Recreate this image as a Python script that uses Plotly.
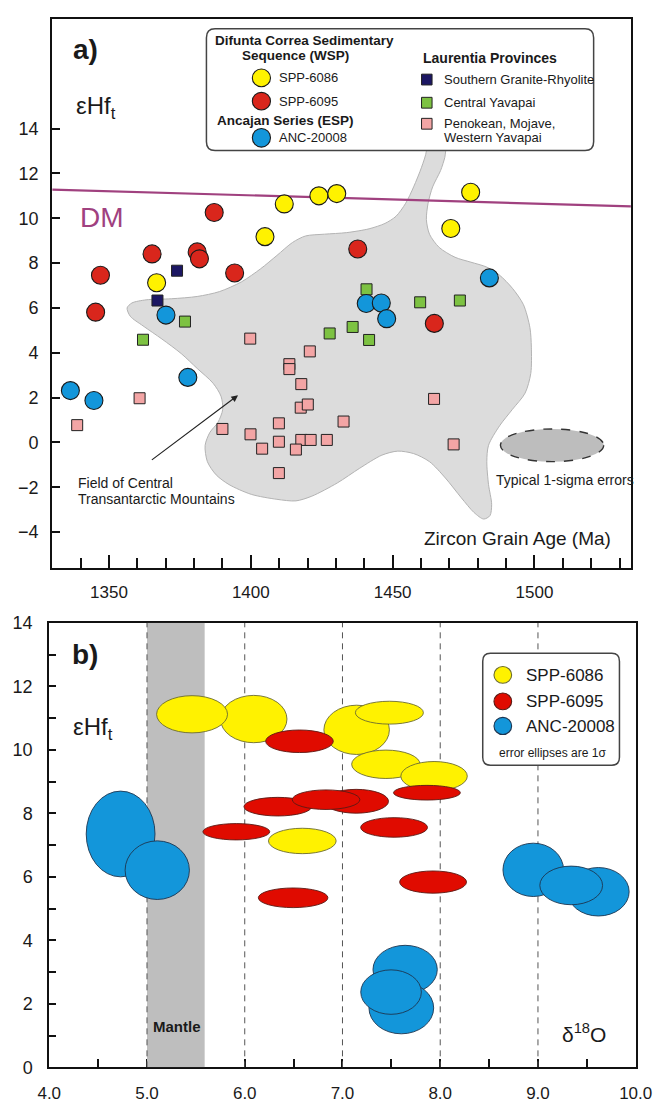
import plotly.graph_objects as go

# ---------------- Panel a data (Zircon age vs eHf) ----------------
spp6086_age = [1411.8, 1424.0, 1430.3, 1477.5, 1405.0, 1470.5, 1366.8]
spp6086_ehf = [10.64, 11.00, 11.10, 11.16, 9.18, 9.54, 7.12]

spp6095_age = [1387.1, 1365.2, 1381.1, 1381.9, 1394.3, 1437.7, 1464.7, 1347.0, 1345.3]
spp6095_ehf = [10.26, 8.41, 8.50, 8.19, 7.56, 8.63, 5.31, 7.46, 5.81]

anc20008_age = [1370.1, 1440.7, 1446.0, 1447.9, 1484.1, 1377.8, 1336.4, 1344.7]
anc20008_ehf = [5.68, 6.20, 6.22, 5.52, 7.34, 2.90, 2.31, 1.87]

sgr_age = [1374.0, 1367.1]          # Southern Granite-Rhyolite
sgr_ehf = [7.66, 6.33]

cy_age = [1440.8, 1459.7, 1473.7, 1376.8, 1362.0, 1427.8, 1435.9, 1441.7]   # Central Yavapai
cy_ehf = [6.83, 6.25, 6.33, 5.39, 4.58, 4.86, 5.15, 4.57]

pmw_age = [1399.8, 1420.8, 1413.6, 1413.6, 1417.8, 1360.8, 1417.6, 1420.1, 1390.0, 1399.9, 1409.9,
           1432.7, 1409.9, 1417.8, 1421.1, 1426.8, 1404.0, 1415.9, 1409.9, 1464.6, 1471.5, 1338.8]
pmw_ehf = [4.63, 4.06, 3.49, 3.27, 2.60, 1.97, 1.55, 1.69, 0.60, 0.36, 0.85,
           0.93, 0.03, 0.11, 0.11, 0.11, -0.28, -0.32, -1.37, 1.94, -0.09, 0.77]

# Depleted mantle line
dm_age = [1330, 1534]
dm_ehf = [11.28, 10.53]

# Field of Central Transantarctic Mountains (outline)
field_age = [1461.6, 1461.9, 1460.2, 1457.4, 1454.6, 1451.2, 1447.3, 1441.7, 1433.8, 1426.0, 1419.3, 1414.7,
             1409.2, 1403.5, 1396.8, 1389.0, 1381.1, 1372.1, 1363.1, 1358.1, 1356.4, 1357.5, 1362.0, 1368.7,
             1375.5, 1381.1, 1386.7, 1389.5, 1390.1, 1388.4, 1385.6, 1383.9, 1384.7, 1387.8, 1392.3, 1400.2,
             1409.2, 1415.9, 1421.5, 1430.5, 1438.3, 1446.2, 1451.8, 1457.4, 1463.0, 1468.6, 1474.2, 1478.7,
             1482.1, 1484.3, 1484.9, 1483.8, 1483.2, 1483.8, 1487.7, 1492.2, 1496.7, 1498.7, 1498.9, 1498.4,
             1496.1, 1492.2, 1487.7, 1483.2, 1477.6, 1472.0, 1466.4, 1463.0, 1461.9, 1462.5, 1464.1, 1466.9,
             1468.4, 1468.7, 1469.3]
field_ehf = [13.6, 13.0, 12.28, 11.40, 10.67, 10.09, 9.77, 9.53, 9.36, 9.29, 9.21, 8.92,
             8.34, 7.75, 7.17, 6.73, 6.51, 6.41, 6.36, 6.22, 6.00, 5.63, 5.20, 4.61,
             3.96, 3.30, 2.64, 2.06, 1.47, 0.89, 0.45, -0.13, -0.86, -1.45, -1.88, -2.32,
             -2.54, -2.61, -2.40, -1.81, -1.16, -0.57, -0.39, -0.50, -0.86, -1.59, -2.47, -3.13,
             -3.42, -3.27, -2.76, -1.88, -0.86, -0.13, 0.74, 1.47, 2.20, 3.08, 4.25, 5.12,
             6.15, 6.88, 7.46, 7.82, 8.04, 8.26, 8.70, 9.29, 9.94, 10.67, 11.40, 12.13,
             12.72, 13.0, 13.6]

# Typical 1-sigma error ellipse (center, half-widths)
err_center = (1506.2, -0.13)
err_half = (18.2, 0.73)

# ---------------- Panel b data (d18O vs eHf, ellipses) ----------------
y_d18o = [6.092, 5.461, 7.145, 7.480, 7.444, 7.937, 6.589]
y_ehf = [10.97, 11.12, 10.63, 11.17, 9.545, 9.17, 7.13]
y_sx = [0.340, 0.363, 0.335, 0.348, 0.350, 0.340, 0.346]
y_sy = [0.745, 0.586, 0.776, 0.360, 0.447, 0.462, 0.400]

r_d18o = [6.560, 6.338, 7.140, 6.832, 7.864, 5.914, 7.528, 6.495, 7.927]
r_ehf = [10.27, 8.21, 8.38, 8.43, 8.65, 7.42, 7.556, 5.34, 5.835]
r_sx = [0.346, 0.346, 0.331, 0.346, 0.342, 0.342, 0.342, 0.356, 0.342]
r_sy = [0.355, 0.293, 0.375, 0.308, 0.231, 0.257, 0.308, 0.309, 0.350]

b_d18o = [4.730, 5.105, 8.952, 9.618, 9.340, 7.641, 7.602, 7.497]
b_ehf = [7.35, 6.21, 6.22, 5.53, 5.73, 3.08, 1.87, 2.37]
b_sx = [0.352, 0.329, 0.310, 0.315, 0.321, 0.329, 0.331, 0.310]
b_sy = [1.35, 0.923, 0.84, 0.763, 0.608, 0.763, 0.814, 0.70]

mantle_range = [5.0, 5.59]
dashed_x = [5.0, 6.0, 7.0, 8.0, 9.0]

# ---------------- styling ----------------
PAGE_MARGIN = 8          # default body margin of the html page
W, H = 668 - PAGE_MARGIN, 1112 - PAGE_MARGIN
FONT = "Liberation Sans, Arial, sans-serif"
TXT = "#1a1a1a"
C_YEL = "#FFF200"
C_RED_A = "#D9261C"
C_BLU = "#1396DA"
C_NAVY = "#1C1763"
C_GRN = "#7DC242"
C_PNK = "#F3A5A5"
C_DM = "#A0417F"
C_RED_B = "#E00B00"


def px(x):
    return (x - PAGE_MARGIN) / W


def py(y):
    return 1 - (y - PAGE_MARGIN) / H


fig = go.Figure()

# panel a traces
fig.add_trace(go.Scatter(x=field_age, y=field_ehf, mode="lines", fill="toself", fillcolor="#DCDCDC",
                         line=dict(color="#B3B3B3", width=1, shape="spline", smoothing=0.8),
                         hoverinfo="skip", xaxis="x", yaxis="y"))
fig.add_trace(go.Scatter(x=dm_age, y=dm_ehf, mode="lines", line=dict(color=C_DM, width=2.2),
                         xaxis="x", yaxis="y"))


def sq(x, y, c):
    return go.Scatter(x=x, y=y, mode="markers", xaxis="x", yaxis="y",
                      marker=dict(symbol="square", size=11, color=c, line=dict(color="#222", width=1)))


def ci(x, y, c):
    return go.Scatter(x=x, y=y, mode="markers", xaxis="x", yaxis="y",
                      marker=dict(symbol="circle", size=18, color=c, line=dict(color="#1a1a1a", width=1.1)))


fig.add_trace(sq(pmw_age, pmw_ehf, C_PNK))
fig.add_trace(sq(cy_age, cy_ehf, C_GRN))
fig.add_trace(sq(sgr_age, sgr_ehf, C_NAVY))
fig.add_trace(ci(spp6086_age, spp6086_ehf, C_YEL))
fig.add_trace(ci(spp6095_age, spp6095_ehf, C_RED_A))
fig.add_trace(ci(anc20008_age, anc20008_ehf, C_BLU))

shapes = []
annotations = []

# error ellipse panel a
shapes.append(dict(type="circle", xref="x", yref="y",
                   x0=err_center[0] - err_half[0], x1=err_center[0] + err_half[0],
                   y0=err_center[1] - err_half[1], y1=err_center[1] + err_half[1],
                   fillcolor="#BDBDBD", line=dict(color="#333", width=1.4, dash="dash"), layer="above"))


def rounded_box(x0p, y0p, x1p, y1p, r, fill="white", color="#444", width=1.5):
    x0, x1 = px(x0p), px(x1p)
    yt, yb = py(y0p), py(y1p)
    rx, ry = r / W, r / H
    path = (f"M {x0+rx},{yt} L {x1-rx},{yt} Q {x1},{yt} {x1},{yt-ry} L {x1},{yb+ry} "
            f"Q {x1},{yb} {x1-rx},{yb} L {x0+rx},{yb} Q {x0},{yb} {x0},{yb+ry} "
            f"L {x0},{yt-ry} Q {x0},{yt} {x0+rx},{yt} Z")
    return dict(type="path", xref="paper", yref="paper", path=path, fillcolor=fill,
                line=dict(color=color, width=width), layer="above")


def circ(cx, cy, dx, dy, c, lc="#1a1a1a"):
    return dict(type="circle", xref="paper", yref="paper", x0=px(cx - dx / 2), x1=px(cx + dx / 2),
                y0=py(cy + dy / 2), y1=py(cy - dy / 2), fillcolor=c, line=dict(color=lc, width=1.1),
                layer="above")


def rect(cx, cy, d, c):
    return dict(type="rect", xref="paper", yref="paper", x0=px(cx - d / 2), x1=px(cx + d / 2),
                y0=py(cy + d / 2), y1=py(cy - d / 2), fillcolor=c, line=dict(color="#222", width=1),
                layer="above")


def text(x, y, s, size, bold=False, anchor="left", color=TXT, yanchor="middle"):
    if bold:
        s = f"<b>{s}</b>"
    return dict(x=px(x), y=py(y), xref="paper", yref="paper", text=s, showarrow=False,
                xanchor=anchor, yanchor=yanchor, font=dict(family=FONT, size=size, color=color))


# legend a
shapes.append(rounded_box(203, 19, 608, 143, 9))
annotations += [
    text(305.5, 30.5, "Difunta Correa Sedimentary", 13.5, True, "center"),
    text(296, 46, "Sequence (WSP)", 13.5, True, "center"),
    text(286, 112, "Ancajan Series (ESP)", 13.5, True, "center"),
    text(427, 48.5, "Laurentia Provinces", 14, True, "left"),
    text(277, 69, "SPP-6086", 13),
    text(277, 92.7, "SPP-6095", 13),
    text(277, 130, "ANC-20008", 13),
    text(449.5, 70.7, "Southern Granite-Rhyolite", 13),
    text(449.5, 94.3, "Central Yavapai", 13),
    text(449.5, 115.7, "Penokean, Mojave,", 13),
    text(449.5, 130, "Western Yavapai", 13),
]
shapes += [circ(260.5, 69, 19, 18, C_YEL), circ(260.5, 92.7, 19, 18, C_RED_A), circ(260.5, 130, 19, 19, C_BLU),
           rect(433.5, 70.7, 11, C_NAVY), rect(433.5, 94.3, 11, C_GRN), rect(433.5, 115.7, 11, C_PNK)]

# panel a labels
annotations += [
    text(76, 40.5, "a)", 28, True, "center"),
    text(65, 99, "εHf<sub>t</sub>", 24),
    text(94, 211, "DM", 28, False, "center", C_DM),
    text(67, 482, "Field of Central", 14),
    text(67, 497.5, "Transantarctic Mountains", 14),
    text(504, 479, "Typical 1-sigma errors", 14),
    text(428, 538.5, "Zircon Grain Age (Ma)", 19),
]
annotations.append(dict(x=1395.5, y=2.10, ax=1364.6, ay=-0.83, xref="x", yref="y", axref="x", ayref="y",
                        showarrow=True, arrowhead=2, arrowsize=1.1, arrowwidth=1.2, arrowcolor="#222", text=""))

# ---------------- panel b ----------------
shapes.append(dict(type="rect", xref="x2", yref="y2", x0=mantle_range[0], x1=mantle_range[1], y0=0, y1=14,
                   fillcolor="#BEBEBE", line=dict(width=0), layer="above"))
for xv in dashed_x:
    shapes.append(dict(type="line", xref="x2", yref="y2", x0=xv, x1=xv, y0=0, y1=14,
                       line=dict(color="#555", width=1, dash="6px,5px"), layer="above"))


def ell(xc, yc, sx, sy, c, lc):
    return dict(type="circle", xref="x2", yref="y2", x0=xc - sx, x1=xc + sx, y0=yc - sy, y1=yc + sy,
                fillcolor=c, line=dict(color=lc, width=0.9), layer="above")


for i in range(len(y_d18o)):
    shapes.append(ell(y_d18o[i], y_ehf[i], y_sx[i], y_sy[i], C_YEL, "#6b6b30"))
for i in range(len(r_d18o)):
    shapes.append(ell(r_d18o[i], r_ehf[i], r_sx[i], r_sy[i], C_RED_B, "#5a1a14"))
for i in range(len(b_d18o)):
    shapes.append(ell(b_d18o[i], b_ehf[i], b_sx[i], b_sy[i], C_BLU, "#1d3550"))

# legend b
shapes.append(rounded_box(492, 655, 635, 769, 8))
shapes += [circ(513, 677, 18.5, 17, C_YEL, "#6b6b30"), circ(513, 704, 18.5, 17, C_RED_B, "#5a1a14"),
           circ(513, 729, 18.5, 17.5, C_BLU, "#1d3550")]
annotations += [
    text(535.5, 677.5, "SPP-6086", 17),
    text(535.5, 704.5, "SPP-6095", 17),
    text(535.5, 729.5, "ANC-20008", 17),
    text(565, 757, "error ellipses are 1σ", 12, False, "center"),
    text(76, 656, "b)", 28, True, "center"),
    text(61, 731.5, "εHf<sub>t</sub>", 24),
    text(145, 1035, "Mantle", 15, True),
    text(598, 1042, "δ<sup>18</sup>O", 21, False, "center"),
]

axis_common = dict(showline=True, linecolor="#111", linewidth=2, mirror=True, showgrid=False, zeroline=False,
                   ticks="inside", tickcolor="#111", ticklabeloverflow="allow",
                   tickfont=dict(family=FONT, size=17, color=TXT))

A_TOP = 9.0
ya_top = (440.3 - A_TOP) / 22.83

fig.update_layout(
    width=W, height=H, margin=dict(l=0, r=0, t=0, b=0),
    paper_bgcolor="white", plot_bgcolor="white", showlegend=False,
    shapes=shapes, annotations=annotations,
    xaxis=dict(domain=[px(41.7), px(647)], range=[1330, 1534], anchor="y", tick0=1350, dtick=50,
               ticklen=13, tickwidth=1.8, ticklabelstandoff=7,
               minor=dict(dtick=10, tick0=1330, ticks="inside", ticklen=10, tickwidth=1.5, tickcolor="#111"),
               **axis_common),
    yaxis=dict(domain=[py(568.5), py(A_TOP)], range=[-5.62, ya_top], anchor="x", tickvals=list(range(-4, 15, 2)),
               ticklen=8, tickwidth=1.8, ticklabelstandoff=8, **axis_common),
    xaxis2=dict(domain=[px(38.6), px(652)], range=[4, 10], anchor="y2", tick0=4, dtick=1, tickformat=".1f",
                ticklen=8, tickwidth=1.8, ticklabelstandoff=9,
                minor=dict(dtick=0.5, tick0=4, ticks="inside", ticklen=8, tickwidth=1.8, tickcolor="#111"),
                **axis_common),
    yaxis2=dict(domain=[py(1076.7), py(624)], range=[0, 14], anchor="x2", tick0=0, dtick=2,
                ticklen=7, tickwidth=1.8, ticklabelstandoff=11,
                minor=dict(dtick=1, tick0=0, ticks="inside", ticklen=7, tickwidth=1.8, tickcolor="#111"),
                **axis_common),
)
fig.update_xaxes(tickfont_size=17, selector=dict(anchor="y2"))
fig.update_yaxes(tickfont_size=18, selector=dict(anchor="x2"))
fig.update_yaxes(tickfont_size=18, selector=dict(anchor="x"))

fig.write_html("out.html")
